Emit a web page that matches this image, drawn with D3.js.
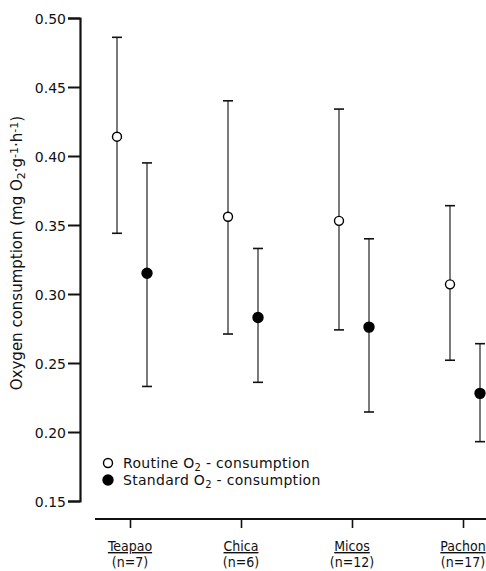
<!doctype html>
<html lang="en">
<head>
  <meta charset="utf-8">
  <title>Oxygen consumption</title>
  <script src="https://d3js.org/d3.v7.min.js"></script>
  <style>
    body { margin: 0; background: #fff; }
    text { font-family: "DejaVu Sans", sans-serif; fill: #111; }
    .cat { font-family: "DejaVu Sans Condensed", "DejaVu Sans", sans-serif; }
    .bar { stroke: #222; stroke-width: 1.2; }
    .cap { stroke: #111; stroke-width: 1.6; }
  </style>
</head>
<body>
  <div id="chart"></div>
  <script>
    // data
    const sites = ['Teapao', 'Chica', 'Micos', 'Pachon'];
    const sampleSizes = ['(n=7)', '(n=6)', '(n=12)', '(n=17)'];
    const routineMean = [0.414, 0.356, 0.353, 0.307];
    const routineHigh = [0.486, 0.440, 0.434, 0.364];
    const routineLow  = [0.344, 0.271, 0.274, 0.252];
    const standardMean = [0.315, 0.283, 0.276, 0.228];
    const standardHigh = [0.395, 0.333, 0.340, 0.264];
    const standardLow  = [0.233, 0.236, 0.2145, 0.193];
    const yTicks = [0.15, 0.20, 0.25, 0.30, 0.35, 0.40, 0.45, 0.50];

    const width = 486, height = 571;

    const svg = d3.select('#chart').append('svg')
      .attr('width', width)
      .attr('height', height);

    const y = d3.scaleLinear()
      .domain([0.15, 0.50])
      .range([501, 18]);

    const x = d3.scalePoint()
      .domain(sites)
      .range([130, 463]);

    // y axis
    const yAxis = d3.axisLeft(y)
      .tickValues(yTicks)
      .tickFormat(d3.format('.2f'))
      .tickSize(12)
      .tickPadding(2);

    const gy = svg.append('g')
      .attr('transform', 'translate(80,0)')
      .call(yAxis);
    gy.select('.domain').attr('stroke', '#111').attr('stroke-width', 2.2);
    gy.selectAll('.tick line').attr('stroke', '#111').attr('stroke-width', 2);
    gy.selectAll('.tick text')
      .style('font-size', '14px')
      .attr('dy', '0.36em');

    // y title
    svg.append('text')
      .attr('transform', 'translate(22,253) rotate(-90)')
      .attr('text-anchor', 'middle')
      .style('font-size', '15px')
      .html('Oxygen consumption (mg O<tspan baseline-shift="-25%" font-size="11px">2</tspan>·g<tspan baseline-shift="40%" font-size="11px">-1</tspan>·h<tspan baseline-shift="40%" font-size="11px">-1</tspan>)');

    // x axis (detached line below the plot)
    const xAxis = d3.axisBottom(x)
      .tickSize(9)
      .tickFormat('');
    const gx = svg.append('g')
      .attr('transform', 'translate(0,519)')
      .call(xAxis);
    gx.select('.domain').remove();
    gx.append('line')
      .attr('x1', 95).attr('x2', width)
      .attr('stroke', '#111').attr('stroke-width', 2.2);
    gx.selectAll('.tick line').attr('stroke', '#111').attr('stroke-width', 1.6);

    svg.append('g').selectAll('text')
      .data(sites)
      .join('text')
      .attr('class', 'cat')
      .attr('x', d => x(d))
      .attr('y', 551)
      .attr('text-anchor', 'middle')
      .attr('text-decoration', 'underline')
      .style('font-size', '14px')
      .text(d => d);

    svg.append('g').selectAll('text')
      .data(sampleSizes)
      .join('text')
      .attr('class', 'cat')
      .attr('x', (d, i) => x(sites[i]))
      .attr('y', 567)
      .attr('text-anchor', 'middle')
      .style('font-size', '14px')
      .text(d => d);

    // error bars
    const series = [
      { off: -13, mean: routineMean, hi: routineHigh, lo: routineLow, fill: '#fff', r: 4.5 },
      { off: 17, mean: standardMean, hi: standardHigh, lo: standardLow, fill: '#000', r: 5 }
    ];

    series.forEach(s => {
      const g = svg.append('g');
      const px = i => x(sites[i]) + s.off;
      g.selectAll('.bar')
        .data(sites)
        .join('line')
        .attr('class', 'bar')
        .attr('x1', (d, i) => px(i)).attr('x2', (d, i) => px(i))
        .attr('y1', (d, i) => y(s.hi[i])).attr('y2', (d, i) => y(s.lo[i]));
      g.selectAll('.caphi')
        .data(sites)
        .join('line')
        .attr('class', 'cap')
        .attr('x1', (d, i) => px(i) - 5).attr('x2', (d, i) => px(i) + 5)
        .attr('y1', (d, i) => y(s.hi[i])).attr('y2', (d, i) => y(s.hi[i]));
      g.selectAll('.caplo')
        .data(sites)
        .join('line')
        .attr('class', 'cap')
        .attr('x1', (d, i) => px(i) - 5).attr('x2', (d, i) => px(i) + 5)
        .attr('y1', (d, i) => y(s.lo[i])).attr('y2', (d, i) => y(s.lo[i]));
      g.selectAll('circle')
        .data(sites)
        .join('circle')
        .attr('cx', (d, i) => px(i))
        .attr('cy', (d, i) => y(s.mean[i]))
        .attr('r', s.r)
        .attr('fill', s.fill)
        .attr('stroke', '#000')
        .attr('stroke-width', 1.4);
    });

    // legend
    const legend = [
      { label: 'Routine', fill: '#fff', r: 4.5, y: 463 },
      { label: 'Standard', fill: '#000', r: 5, y: 480 }
    ];
    legend.forEach(l => {
      svg.append('circle')
        .attr('cx', 108).attr('cy', l.y)
        .attr('r', l.r)
        .attr('fill', l.fill)
        .attr('stroke', '#000')
        .attr('stroke-width', 1.4);
      svg.append('text')
        .attr('x', 123).attr('y', l.y + 5)
        .style('font-size', '14px')
        .style('letter-spacing', '0.3px')
        .html(l.label + ' O<tspan baseline-shift="-25%" font-size="10px">2</tspan> - consumption');
    });
  </script>
</body>
</html>
